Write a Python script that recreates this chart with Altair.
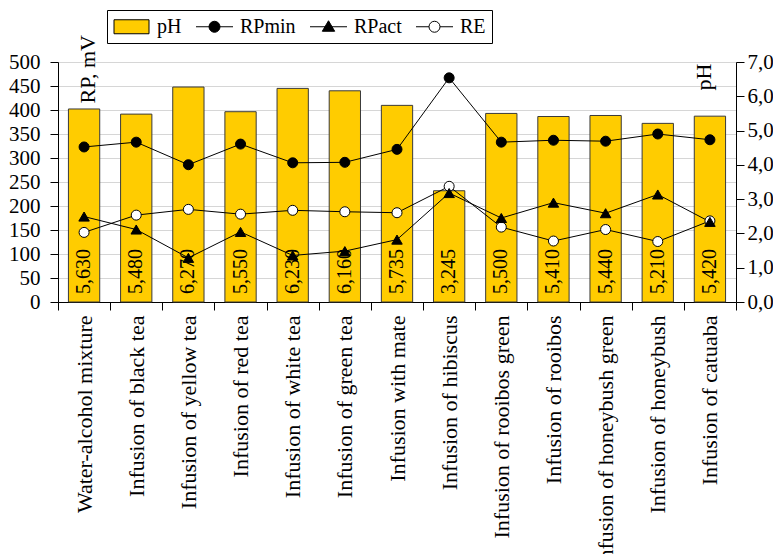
import altair as alt
import pandas as pd

categories = [
    "Water-alcohol mixture", "Infusion of black tea", "Infusion of yellow tea",
    "Infusion of red tea", "Infusion of white tea", "Infusion of green tea",
    "Infusion with mate", "Infusion of hibiscus", "Infusion of rooibos green",
    "Infusion of rooibos", "Infusion of honeybush green", "Infusion of honeybush",
    "Infusion of catuaba",
]
ph_values = [5.630, 5.480, 6.270, 5.550, 6.230, 6.160, 5.735, 3.245, 5.500, 5.410, 5.440, 5.210, 5.420]
rp_min = [323, 333, 286, 329, 290, 291, 318, 467, 333, 337, 335, 350, 338]
rp_act = [178, 151, 92, 146, 97, 106, 130, 227, 175, 207, 185, 224, 167]
re_values = [145, 181, 193, 183, 191, 188, 186, 241, 156, 127, 151, 126, 169]
series_names = ["pH", "RPmin", "RPact", "RE"]
series_fill = ["#FFCC00", "#000000", "#000000", "#FFFFFF"]

bars_df = pd.DataFrame({"category": categories, "pH": ph_values})
bars_df["zero"] = 0
bars_df["label"] = [f"{v:.3f}".replace(".", ",") for v in ph_values]
bars_df["series"] = "pH"

lines_df = pd.concat([
    pd.DataFrame({"category": categories, "value": vals, "series": name})
    for name, vals in [("RPmin", rp_min), ("RPact", rp_act), ("RE", re_values)]
], ignore_index=True)
legend_df = pd.DataFrame({"series": series_names})

SERIF = "Liberation Serif"

# legend glyphs: swatch, line+dot, line+triangle, line+open dot
P_PH = "M-1.75,-0.7H1.75V0.7H-1.75Z"
P_MIN = "M-1.85,0H1.85M-0.55,0A0.55,0.55,0,1,0,0.55,0A0.55,0.55,0,1,0,-0.55,0Z"
P_TRI = "M-1.85,0H1.85M0,-0.6L0.62,0.45H-0.62Z"
P_RE = "M-1.85,0H-0.55M0.55,0H1.85M-0.55,0A0.55,0.55,0,1,0,0.55,0A0.55,0.55,0,1,0,-0.55,0Z"

legend = alt.Legend(
    title=None, orient="none", legendX=49, legendY=-52, direction="horizontal",
    columns=4,
)

x_enc = alt.X(
    "category:N", sort=categories,
    scale=alt.Scale(paddingInner=0, paddingOuter=0),
    axis=alt.Axis(
        title=None, labelAngle=270, labelAlign="right", labelBaseline="middle",
        labelFont=SERIF, labelFontSize=22, labelColor="black", labelLimit=400,
        labelPadding=5, tickBand="extent", tickSize=8, tickColor="black",
        domainColor="black", labelOverlap=False, grid=False,
    ),
)
fill_scale = alt.Scale(domain=series_names, range=series_fill)

right_axis = alt.Axis(
    orient="right", title="pH", titleAngle=270, titleAlign="right",
    titleBaseline="alphabetic", titleX=-26, titleY=1, titleFont=SERIF,
    titleFontSize=22, titleFontWeight="normal", titleColor="black",
    values=[0, 1, 2, 3, 4, 5, 6, 7],
    labelExpr="replace(format(datum.value, '.1f'), '.', ',')",
    labelFont=SERIF, labelFontSize=21, labelColor="black", labelPadding=3,
    labelOverlap=False, tickSize=8, tickColor="black", domainColor="black",
    grid=False,
)
left_axis = alt.Axis(
    orient="left", title="RP, mV", titleAngle=270, titleAlign="left",
    titleBaseline="alphabetic", titleX=36, titleY=41, titleFont=SERIF,
    titleFontSize=22, titleFontWeight="normal", titleColor="black",
    values=list(range(0, 501, 50)), labelFont=SERIF, labelFontSize=21,
    labelColor="black", labelPadding=10, labelOverlap=False, tickSize=8,
    tickColor="black", domainColor="black", grid=True, gridColor="#d6d6d6",
)

ph_scale = alt.Scale(domain=[0, 7], nice=False)
bar = alt.Chart(bars_df).mark_bar(
    width=alt.RelativeBandSize(0.6), stroke="#3a3a3a", strokeWidth=1
).encode(
    x=x_enc,
    y=alt.Y("pH:Q", scale=ph_scale, axis=right_axis),
    fill=alt.Fill("series:N", scale=fill_scale, legend=legend),
)
text = alt.Chart(bars_df).mark_text(
    angle=270, align="left", baseline="middle", dx=8, font=SERIF,
    fontSize=20, color="black",
).encode(x=x_enc, y=alt.Y("zero:Q", scale=ph_scale, axis=right_axis), text="label:N")

line = alt.Chart(lines_df).mark_line(color="black", strokeWidth=1).encode(
    x=x_enc,
    y=alt.Y("value:Q", scale=alt.Scale(domain=[0, 500], nice=False), axis=left_axis),
    detail="series:N",
)
circ = alt.Chart(lines_df).transform_filter("datum.series !== 'RPact'").mark_point(
    shape="circle", filled=True, opacity=1, size=100, stroke="black", strokeWidth=1
).encode(
    x=x_enc, y=alt.Y("value:Q", axis=left_axis),
    fill=alt.Fill("series:N", scale=fill_scale, legend=legend),
)
tri = alt.Chart(lines_df).transform_filter("datum.series === 'RPact'").mark_point(
    shape="triangle-up", filled=True, opacity=1, size=110, stroke="black", strokeWidth=1
).encode(
    x=x_enc, y=alt.Y("value:Q", axis=left_axis),
    fill=alt.Fill("series:N", scale=fill_scale, legend=legend),
)
legend_layer = alt.Chart(legend_df).transform_filter("false").mark_point(
    filled=True, opacity=1, stroke="black", strokeWidth=1
).encode(
    shape=alt.Shape("series:N", scale=alt.Scale(domain=series_names,
                                                range=[P_PH, P_MIN, P_TRI, P_RE]),
                    legend=legend),
    fill=alt.Fill("series:N", scale=fill_scale, legend=legend),
)

chart = alt.layer(
    alt.layer(bar, text),
    alt.layer(line, circ, tri, legend_layer),
).resolve_scale(y="independent").properties(
    width=678, height=240,
    autosize=alt.AutoSizeParams(type="none"),
    padding={"left": 50, "top": 54, "right": 37, "bottom": 252},
).configure_view(stroke="#888888", strokeWidth=1).configure(font=SERIF).configure_legend(
    padding=6, strokeColor="black", fillColor="white", symbolSize=400,
    symbolStrokeColor="black", symbolStrokeWidth=1, labelFont=SERIF,
    labelFontSize=20, labelColor="black", labelOffset=15, symbolOffset=8,
    columnPadding=12,
)

chart.save("out.html", embed_options={"renderer": "svg", "actions": False})
